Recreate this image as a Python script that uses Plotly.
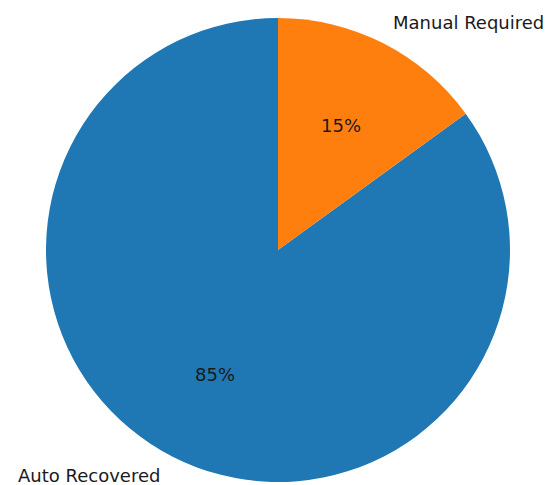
import math
import plotly.graph_objects as go

labels = ["Auto Recovered", "Manual Required"]
values = [85, 15]
colors = ["#1f77b4", "#ff7f0e"]

W, H = 549, 485
cx, cy, r = 278, 250, 232  # pie centre / radius in pixels

total = sum(values)
# plotly's counterclockwise mode places the first slice clockwise from `rotation`;
# shift so the first slice starts at 12 o'clock and runs counterclockwise (like matplotlib startangle=90)
rot = -360.0 * values[0] / total

fig = go.Figure(go.Pie(
    labels=labels, values=values, sort=False, direction="counterclockwise",
    rotation=rot, marker=dict(colors=colors, line=dict(width=0)),
    textinfo="none", hoverinfo="label+percent", showlegend=False,
    domain=dict(x=[(cx - r) / W, (cx + r) / W], y=[(H - cy - r) / H, (H - cy + r) / H]),
))

ann = []
start = 90.0
for lab, v in zip(labels, values):
    sweep = 360.0 * v / total
    mid = math.radians(start + sweep / 2)
    start += sweep
    c, s = math.cos(mid), math.sin(mid)
    lx, ly = cx + 1.1 * r * c, cy - 1.1 * r * s
    ann.append(dict(x=lx / W, y=1 - ly / H, xref="paper", yref="paper", text=lab, showarrow=False,
                    xanchor="left" if c > 0 else "right", yanchor="middle",
                    xshift=-3 if c > 0 else 0, yshift=2 if s < 0 else 0,
                    font=dict(family="DejaVu Sans", size=18, color="#1a1a1a")))
    px, py = cx + 0.6 * r * c, cy - 0.6 * r * s
    ann.append(dict(x=px / W, y=1 - py / H, xref="paper", yref="paper", text=f"{round(100 * v / total)}%",
                    showarrow=False, xanchor="center", yanchor="middle",
                    font=dict(family="DejaVu Sans", size=18, color="#1a1a1a")))

fig.update_layout(width=W, height=H, margin=dict(l=0, r=0, t=0, b=0),
                  paper_bgcolor="white", plot_bgcolor="white", annotations=ann)
fig.write_html("out.html", config={"displayModeBar": False},
               post_script="document.body.style.margin='0';document.body.style.overflow='hidden';")
